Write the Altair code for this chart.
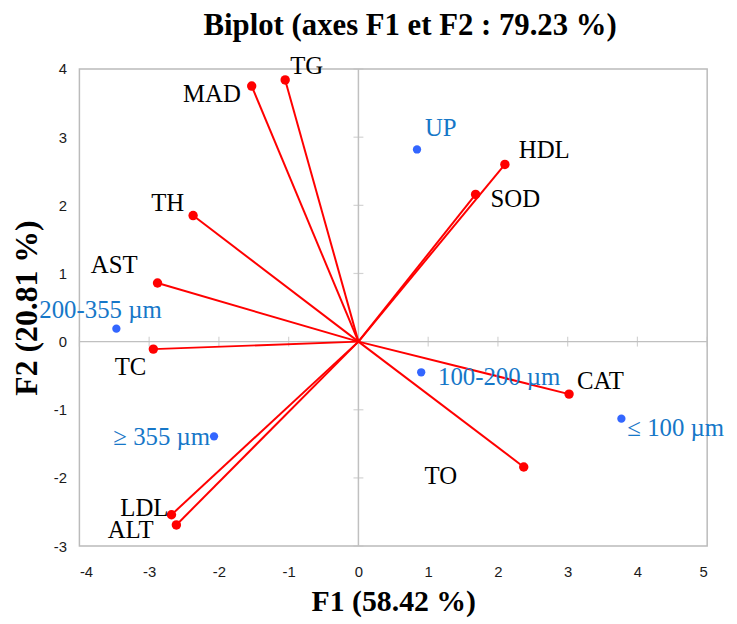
import altair as alt
import pandas as pd

# ---- data ----
var_names = ["MAD", "TG", "TH", "AST", "TC", "LDL", "ALT", "HDL", "SOD", "CAT", "TO"]
var_f1 = [-1.53, -1.05, -2.37, -2.88, -2.94, -2.68, -2.61, 2.10, 1.68, 3.02, 2.37]
var_f2 = [3.75, 3.84, 1.85, 0.86, -0.11, -2.54, -2.69, 2.60, 2.16, -0.77, -1.84]

obs_names = ["UP", "200-355 µm", "≥ 355 µm", "100-200 µm", "≤ 100 µm"]
obs_f1 = [0.84, -3.47, -2.07, 0.90, 3.77]
obs_f2 = [2.82, 0.19, -1.39, -0.45, -1.13]

x_ticks = [-4, -3, -2, -1, 0, 1, 2, 3, 4, 5]
y_ticks = [-3, -2, -1, 0, 1, 2, 3, 4]

# ---- label styling (align, dx, dy in pixels) ----
label_style = {
    "MAD": ("right", -11, 8),
    "TG": ("left", 5, -14),
    "TH": ("right", -9, -13),
    "AST": ("right", -20, -18),
    "TC": ("right", -7, 18),
    "LDL": ("right", -3, -7),
    "ALT": ("right", -23, 5),
    "HDL": ("left", 14, -14),
    "SOD": ("left", 15, 5),
    "CAT": ("left", 8, -13),
    "TO": ("left", -100, 9),
    "UP": ("left", 8, -22),
    "200-355 µm": ("center", -16, -19),
    "≥ 355 µm": ("right", -4, 1),
    "100-200 µm": ("left", 17, 5),
    "≤ 100 µm": ("left", 6, 10),
}

RED = "#FF0000"
BLUE_PT = "#3366FF"
BLUE_TXT = "#1677C8"
GRAY = "#C0C0C0"
SERIF = "Liberation Serif"
SANS = "Liberation Sans"

var_df = pd.DataFrame({"name": var_names, "f1": var_f1, "f2": var_f2})
obs_df = pd.DataFrame({"name": obs_names, "f1": obs_f1, "f2": obs_f2})

W, H = 633, 481

xscale = alt.Scale(domain=[-4, 5], nice=False, zero=False)
yscale = alt.Scale(domain=[-3, 4], nice=False, zero=False)

xaxis = alt.Axis(
    values=x_ticks, labelExpr="'' + datum.value", grid=False, domain=False,
    ticks=False, tickSize=0, labelPadding=19, labelFont=SANS, labelFontSize=15,
    labelColor="#1a1a1a", title="F1 (58.42 %)", titleFont=SERIF,
    titleFontSize=30, titleFontWeight="bold", titleColor="black",
    titleX=W / 2, titleY=56, titleBaseline="middle", titleAlign="center",
)
yaxis = alt.Axis(
    values=y_ticks, labelExpr="'' + datum.value", grid=False, domain=False,
    ticks=False, tickSize=0, labelPadding=13, labelFont=SANS, labelFontSize=15,
    labelColor="#1a1a1a", title="F2 (20.81 %)", titleFont=SERIF,
    titleFontSize=32, titleFontWeight="bold", titleColor="black",
    titleX=-53, titleY=H / 2, titleAngle=270, titleBaseline="middle",
    titleAlign="center",
)

X = alt.X("f1:Q", scale=xscale, axis=xaxis)
Y = alt.Y("f2:Q", scale=yscale, axis=yaxis)

# zero lines
zero_v = alt.Chart(pd.DataFrame({"f1": [0]})).mark_rule(color=GRAY, strokeWidth=1.5).encode(x=X)
zero_h = alt.Chart(pd.DataFrame({"f2": [0]})).mark_rule(color=GRAY, strokeWidth=1.5).encode(y=Y)

# tick marks crossing the zero lines
xt = alt.Chart(pd.DataFrame({"f1": [t for t in x_ticks if t != 0]})).mark_tick(
    orient="vertical", size=10, thickness=1.2, color=GRAY
).encode(x=X, y=alt.datum(0))
yt = alt.Chart(pd.DataFrame({"f2": [t for t in y_ticks if t != 0]})).mark_tick(
    orient="horizontal", size=10, thickness=1.2, color=GRAY
).encode(y=Y, x=alt.datum(0))

vec = alt.Chart(var_df).transform_calculate(o="0").mark_rule(
    color=RED, strokeWidth=2
).encode(x=X, y=Y, x2="o:Q", y2="o:Q")

red_pts = alt.Chart(var_df).mark_circle(color=RED, size=90, opacity=1).encode(x=X, y=Y)
blue_pts = alt.Chart(obs_df).mark_circle(color=BLUE_PT, size=70, opacity=1).encode(x=X, y=Y)

texts = []
for df, col in ((var_df, "black"), (obs_df, BLUE_TXT)):
    for nm in df["name"]:
        al, dx, dy = label_style[nm]
        texts.append(
            alt.Chart(df[df["name"] == nm]).mark_text(
                align=al, baseline="middle", dx=dx, dy=dy, font=SERIF,
                fontSize=25, color=col, clip=False
            ).encode(x=X, y=Y, text="name:N")
        )

chart = alt.layer(zero_v, zero_h, xt, yt, vec, red_pts, blue_pts, *texts).properties(
    width=W, height=H,
    autosize=alt.AutoSizeParams(type="none"),
    padding={"left": 72, "top": 59, "right": 22, "bottom": 72},
    title=alt.TitleParams(
        "Biplot (axes F1 et F2 : 79.23 %)", font=SERIF, fontSize=31,
        fontWeight="bold", color="black", anchor="middle", frame="group",
        dx=17, offset=12,
    ),
).configure_view(stroke="#BBBBBB", strokeWidth=1.5)

chart.save("out.html", embed_options={"renderer": "svg", "actions": False})
